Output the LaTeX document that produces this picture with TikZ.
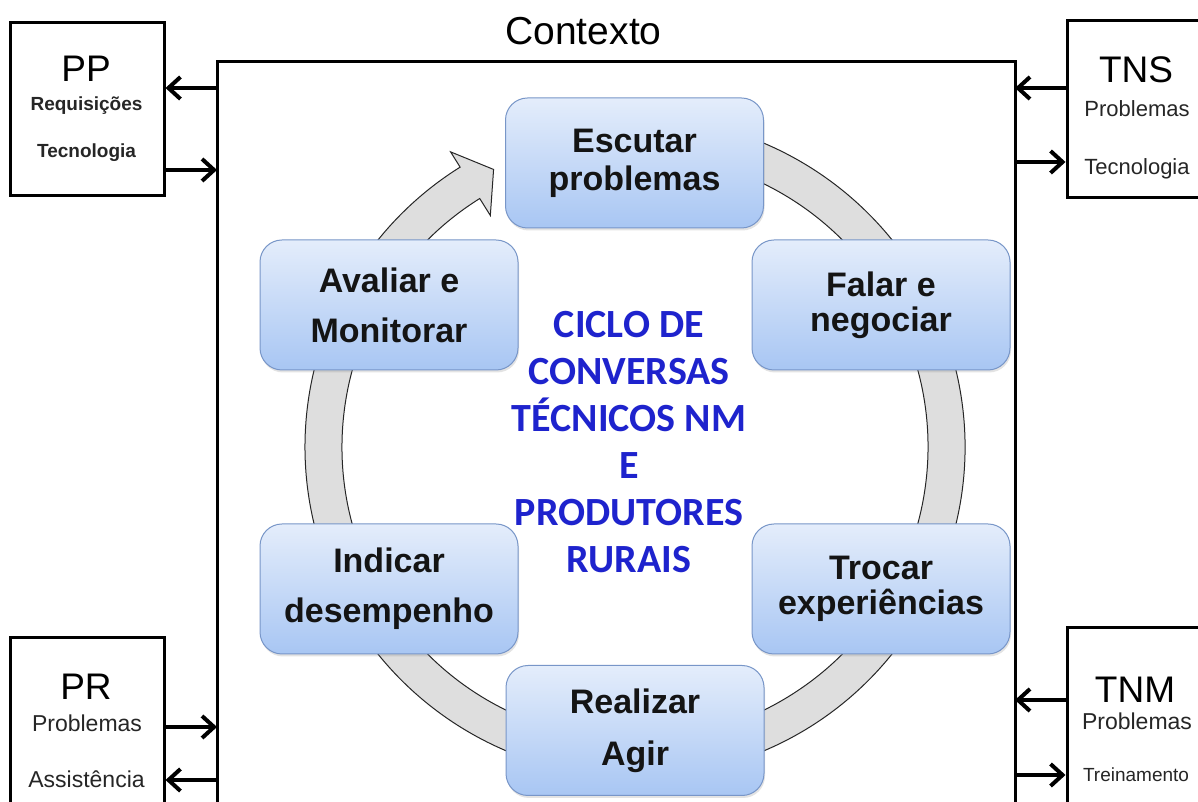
\documentclass[tikz,border=0pt]{standalone}
\usepackage{fontspec}
\setmainfont{Liberation Sans}
\newfontfamily\carlito{Carlito}
\usetikzlibrary{arrows.meta,calc,shadows}

\definecolor{boxtop}{RGB}{228,237,251}
\definecolor{boxbot}{RGB}{168,198,243}
\definecolor{boxline}{RGB}{120,150,200}
\definecolor{ringfill}{RGB}{222,222,222}
\definecolor{cyctext}{RGB}{30,35,205}

\begin{document}
\begin{tikzpicture}[x=1pt,y=1pt,
  extbox/.style={draw=black,line width=3pt,fill=white},
  conn/.style={line width=3.5pt,-{Straight Barb[length=12pt,width=22pt,line width=4pt]}},
  cyc/.style={rounded corners=22pt, draw=boxline, line width=1pt,
    top color=boxtop, bottom color=boxbot,
    minimum width=258pt, minimum height=130pt, align=center, text=black!92,
    drop shadow={opacity=0.22, shadow xshift=1pt, shadow yshift=-2.5pt}},
  big/.style={font=\fontsize{37}{42}\selectfont},
]
\useasboundingbox (0,0) rectangle (1198,802);
\fill[white] (0,0) rectangle (1198,802);

% context frame
\coordinate (fbl) at (217,-5);
\coordinate (ftl) at (217,740);
\coordinate (ftr) at (1015,740);
\coordinate (fbr) at (1015,-5);
\draw[line width=3pt] (fbl) -- (ftl) -- (ftr) -- (fbr);
\node[font=\fontsize{39}{44}\selectfont, anchor=base] (ctx) at (583.5,757) {Contexto};

% cycle ring arrow
\coordinate (c) at (635,355);
\draw[fill=ringfill, line width=1pt, draw=black!85]
  ($(c)+(105:330)$) arc[start angle=105,end angle=-238,radius=330]
  -- ($(c)+(-238:348)$) -- ($(c)+(-243:311.5)$) -- ($(c)+(-238:273)$)
  -- ($(c)+(-238:293)$) arc[start angle=-238,end angle=105,radius=293] -- cycle;

% cycle boxes
\node[cyc, font=\bfseries\fontsize{34}{38}\selectfont] (esc) at (634.5,639) {Escutar\\problemas};
\node[cyc, font=\bfseries\fontsize{34}{35}\selectfont] (fal) at (881,497) {Falar e\\negociar};
\node[cyc, font=\bfseries\fontsize{34}{50}\selectfont] (ava) at (389,497) {Avaliar e\\Monitorar};
\node[cyc, font=\bfseries\fontsize{34}{50}\selectfont] (ind) at (389,213) {Indicar\\desempenho};
\node[cyc, font=\bfseries\fontsize{34}{35}\selectfont] (tro) at (881,213) {Trocar\\experiências};
\node[cyc, font=\bfseries\fontsize{34}{52}\selectfont] (rea) at (635,71.5) {Realizar\\Agir};

% central text
\node[font=\carlito\bfseries\fontsize{40}{47}\selectfont, text=cyctext, align=center] (mid) at (629,360)
  {CICLO DE\\CONVERSAS\\TÉCNICOS NM\\E\\PRODUTORES\\RURAIS};

% outer boxes
\node[extbox, minimum width=154pt, minimum height=173pt] (pp) at (87,692.5) {};
\node[extbox, minimum width=153pt, minimum height=177pt] (tns) at (1143.5,692.5) {};
\node[extbox, minimum width=154pt, minimum height=184pt] (pr) at (87,72) {};
\node[extbox, minimum width=153pt, minimum height=194pt] (tnm) at (1143.5,77) {};

% outer box texts
\node[big, anchor=base] (ppt) at (86,720) {PP};
\node[font=\bfseries\fontsize{19}{22}\selectfont, anchor=base, text=black!85] (ppr) at (86.5,691) {Requisições};
\node[font=\bfseries\fontsize{19}{22}\selectfont, anchor=base, text=black!85] (ppk) at (86.5,644) {Tecnologia};

\node[big, anchor=base] (tnst) at (1136,719) {TNS};
\node[font=\fontsize{22}{26}\selectfont, anchor=base, text=black!85] (tnsp) at (1137,685) {Problemas};
\node[font=\fontsize{22}{26}\selectfont, anchor=base, text=black!85] (tnsk) at (1137,627) {Tecnologia};

\node[big, anchor=base] (prt) at (86,102) {PR};
\node[font=\fontsize{23}{27}\selectfont, anchor=base, text=black!85] (prp) at (87,70) {Problemas};
\node[font=\fontsize{23}{27}\selectfont, anchor=base, text=black!85] (pra) at (86.5,14) {Assistência};

\node[big, anchor=base] (tnmt) at (1135,99) {TNM};
\node[font=\fontsize{23}{27}\selectfont, anchor=base, text=black!85] (tnmp) at (1137,72) {Problemas};
\node[font=\fontsize{19}{22}\selectfont, anchor=base, text=black!85] (tnmk) at (1136,20) {Treinamento};

% connectors
\coordinate (a1) at (217,714);
\coordinate (a2) at (217,632);
\coordinate (a3) at (1015,714);
\coordinate (a4) at (1015,640);
\coordinate (a5) at (217,75);
\coordinate (a6) at (217,22);
\coordinate (a7) at (1015,102);
\coordinate (a8) at (1015,27);
\draw[conn] (a1) -- (a1 -| pp.east);
\draw[conn] (a2 -| pp.east) -- (a2);
\draw[conn] (a3 -| tns.west) -- (a3);
\draw[conn] (a4) -- (a4 -| tns.west);
\draw[conn] (a5 -| pr.east) -- (a5);
\draw[conn] (a6) -- (a6 -| pr.east);
\draw[conn] (a7 -| tnm.west) -- (a7);
\draw[conn] (a8) -- (a8 -| tnm.west);
\end{tikzpicture}
\end{document}
